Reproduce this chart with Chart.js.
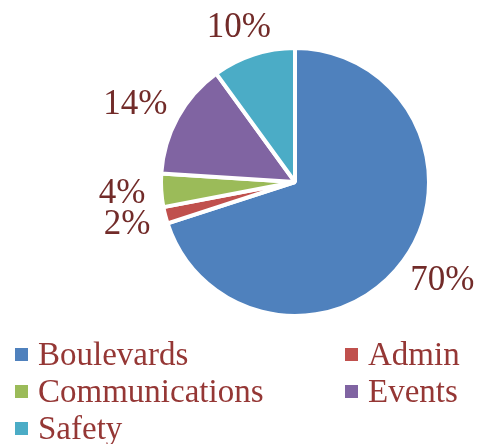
<!DOCTYPE html>
<html>
<head>
<meta charset="utf-8">
<script src="https://cdn.jsdelivr.net/npm/chart.js@4"></script>
<style>
  html, body { margin: 0; padding: 0; background: #fff; }
  canvas { display: block; }
</style>
</head>
<body>
<canvas id="pieChart" width="484" height="444"></canvas>
<script>
const categories = ['Boulevards', 'Admin', 'Communications', 'Events', 'Safety'];
const shares = [70, 2, 4, 14, 10];
const sliceColors = ['#4F81BD', '#C0504D', '#9BBB59', '#8064A2', '#4BACC6'];

const FONT = '"Liberation Serif", "DejaVu Serif", serif';

// Percent labels outside each slice
const outsideLabels = {
    id: 'outsideLabels',
    afterDatasetsDraw(chart) {
        const ctx = chart.ctx;
        const meta = chart.getDatasetMeta(0);
        ctx.save();
        ctx.font = '35px ' + FONT;
        ctx.fillStyle = '#722B29';
        ctx.textAlign = 'center';
        ctx.textBaseline = 'middle';
        meta.data.forEach((arc, i) => {
            const p = arc.getProps(['x', 'y', 'startAngle', 'endAngle', 'outerRadius'], true);
            const mid = (p.startAngle + p.endAngle) / 2;
            const r = p.outerRadius + 16;
            const text = shares[i] + '%';
            const w = ctx.measureText(text).width;
            const h = 28;
            const px = p.x + Math.cos(mid) * r;
            const py = p.y + Math.sin(mid) * r;
            ctx.fillText(text, px + Math.cos(mid) * w / 2, py + Math.sin(mid) * h / 2 + 2);
        });
        ctx.restore();
    }
};

// Two-column legend below the pie
const columnLegend = {
    id: 'columnLegend',
    afterDraw(chart) {
        const ctx = chart.ctx;
        const colX = [15, 345];
        const firstBaseline = 365;
        const rowGap = 37;
        ctx.save();
        ctx.font = '33px ' + FONT;
        ctx.textBaseline = 'alphabetic';
        ctx.textAlign = 'left';
        categories.forEach((name, i) => {
            const x = colX[i % 2];
            const y = firstBaseline + Math.floor(i / 2) * rowGap;
            ctx.fillStyle = sliceColors[i];
            ctx.fillRect(x, y - 17, 13, 13);
            ctx.fillStyle = '#953735';
            ctx.fillText(name, x + 23, y);
        });
        ctx.restore();
    }
};

new Chart(document.getElementById('pieChart'), {
    type: 'pie',
    data: {
        labels: categories,
        datasets: [{
            data: shares,
            backgroundColor: sliceColors,
            borderColor: '#ffffff',
            borderWidth: 4
        }]
    },
    options: {
        responsive: false,
        animation: false,
        rotation: 0,
        layout: {
            padding: { top: 46, bottom: 126, left: 159, right: 53 }
        },
        plugins: {
            legend: { display: false },
            tooltip: { enabled: false }
        }
    },
    plugins: [outsideLabels, columnLegend]
});
</script>
</body>
</html>
